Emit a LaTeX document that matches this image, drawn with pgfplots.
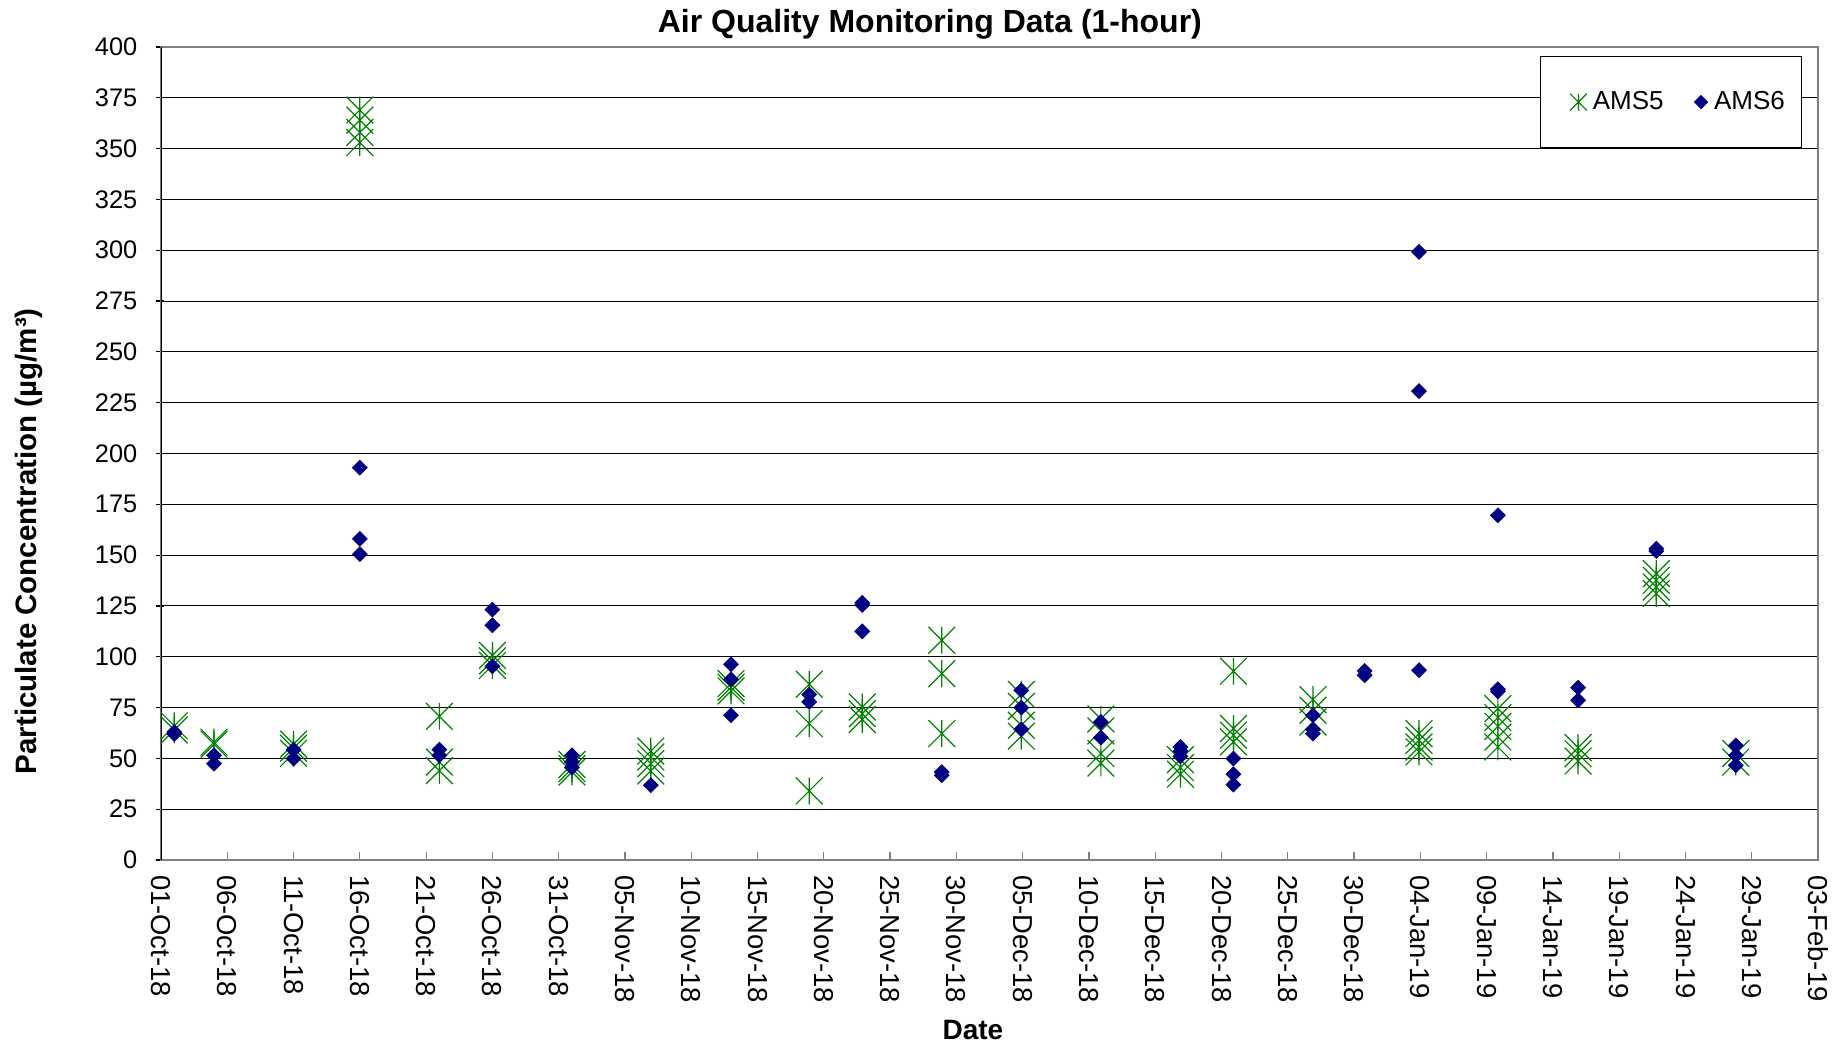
\documentclass[border=0pt]{standalone}
\usepackage{fontspec}
\setmainfont{Liberation Sans}
\usepackage{pgfplots}
\pgfplotsset{compat=1.18}
\definecolor{amsgreen}{RGB}{0,128,0}
\definecolor{amsnavy}{RGB}{0,0,128}
\definecolor{bordergray}{RGB}{128,128,128}
\pgfdeclareplotmark{excelstar}{%
  \pgfpathmoveto{\pgfqpoint{-\pgfplotmarksize}{-\pgfplotmarksize}}%
  \pgfpathlineto{\pgfqpoint{\pgfplotmarksize}{\pgfplotmarksize}}%
  \pgfpathmoveto{\pgfqpoint{-\pgfplotmarksize}{\pgfplotmarksize}}%
  \pgfpathlineto{\pgfqpoint{\pgfplotmarksize}{-\pgfplotmarksize}}%
  \pgfpathmoveto{\pgfqpoint{0pt}{-\pgfplotmarksize}}%
  \pgfpathlineto{\pgfqpoint{0pt}{\pgfplotmarksize}}%
  \pgfusepathqstroke
}
\pgfplotsset{
  amsfive legend/.style={legend image code/.code={\path[draw=none,fill=none] (0pt,0pt) -- (17pt,0pt); \draw[##1, mark size=4.2pt] plot coordinates {(13.5pt,0pt)};}},
  amssix legend/.style={legend image code/.code={\path[draw=none,fill=none] (0pt,0pt) -- (17pt,0pt); \draw[##1, mark size=2.3pt] plot coordinates {(13.5pt,0pt)};}},
}
\begin{document}
\begin{tikzpicture}
\useasboundingbox (-80.5pt,-95pt) rectangle (839pt,430pt);
\begin{axis}[
  scale only axis, width=828.5pt, height=406.5pt,
  xmin=0, xmax=125, ymin=0, ymax=400,
  xtick={0,5,...,125},
  xticklabels={01-Oct-18,06-Oct-18,11-Oct-18,16-Oct-18,21-Oct-18,26-Oct-18,31-Oct-18,05-Nov-18,10-Nov-18,15-Nov-18,20-Nov-18,25-Nov-18,30-Nov-18,05-Dec-18,10-Dec-18,15-Dec-18,20-Dec-18,25-Dec-18,30-Dec-18,04-Jan-19,09-Jan-19,14-Jan-19,19-Jan-19,24-Jan-19,29-Jan-19,03-Feb-19},
  ytick={0,25,...,400},
  ymajorgrids, grid style={black, line width=0.5pt},
  axis line style={draw=bordergray, line width=1.2pt},
  tick align=inside, major tick length=4pt,
  xtick pos=bottom, ytick pos=left,
  xtick style={bordergray, line width=0.6pt},
  ytick style={black, line width=0.6pt, xshift=-2.7pt},
  /pgf/number format/assume math mode=true,
  yticklabel style={font=\fontsize{12.7}{15}\selectfont},
  yticklabel shift=8.3pt,
  xticklabel style={font=\fontsize{13.7}{16}\selectfont, rotate=-90, anchor=west},
  xticklabel shift=4pt,
  title={Air Quality Monitoring Data (1-hour)},
  title style={font=\bfseries\fontsize{16}{19}\selectfont, at={(0.464,1)}, anchor=base, yshift=1.3pt},
  xlabel={Date},
  xlabel style={font=\bfseries\fontsize{14}{17}\selectfont, at={(axis description cs:0.490,-0.209)}, anchor=center},
  ylabel={Particulate Concentration (µg/m³)},
  ylabel style={font=\bfseries\fontsize{14.75}{17}\selectfont, at={(axis description cs:-0.0797,0.392)}, anchor=center},
  legend columns=2,
  legend cell align=left,
  legend style={at={(0.8322,0.9889)}, anchor=north west, draw=black, line width=0.5pt,
    font=\fontsize{13}{15}\selectfont, inner xsep=5.5pt, inner ysep=14.5pt,
    nodes={inner sep=3pt},
    /tikz/every even column/.append style={column sep=2.2pt}},
]
\addplot[only marks, color=amsgreen, mark=excelstar, mark size=6.7pt,
  mark options={draw=amsgreen, line width=0.6pt}, amsfive legend]
table {
x y
1.0 66
1.0 64
4.0 58
4.0 57
10.0 57
10.0 55
10.0 52.5
15.0 369
15.0 364
15.0 358
15.0 353
21.0 70.7
21.0 48.2
21.0 44
25.0 100.7
25.0 98
25.0 95.7
31.0 47
31.0 45
31.0 43.3
36.95 53.6
36.95 50.7
36.95 47.4
36.95 43.8
43.0 86.8
43.0 85
43.0 83.2
48.9 86.5
48.9 67.1
48.9 34
52.9 75.3
52.9 72
52.9 69.1
58.9 108.1
58.9 91.7
58.9 62.2
64.9 81.5
64.9 75.6
64.9 66.3
64.9 60.9
70.9 69.4
70.9 63.5
70.9 52.4
70.9 47.7
76.9 49.4
76.9 45.5
76.9 42.2
80.9 92.9
80.9 64.7
80.9 61.4
80.9 58.1
86.9 78.9
86.9 73.7
86.9 67.9
94.9 62.2
94.9 58.9
94.9 55.6
94.9 53.2
100.85 74.5
100.85 70.1
100.85 65.8
100.85 60.5
100.85 55.6
106.9 55.3
106.9 52.3
106.9 48.7
112.8 140.9
112.8 137.6
112.8 134.3
112.8 131.1
118.8 52.4
118.8 48.2
};
\addlegendentry{AMS5}
\addplot[only marks, color=amsnavy, mark=square*, mark size=2.6pt,
  mark options={rotate=45, draw=amsnavy, fill=amsnavy}, amssix legend]
table {
x y
1.0 63
1.0 62
4.0 51.5
4.0 47.4
10.0 54.3
10.0 49.9
15.0 193
15.0 158
15.0 150.5
21.0 54.3
21.0 51.5
25.0 123.2
25.0 115.5
25.0 95.3
31.0 51.5
31.0 48.2
31.0 45.5
36.95 36.8
43.0 96.3
43.0 88.9
43.0 71.2
48.9 81.4
48.9 77.8
52.9 126.5
52.9 125.5
52.9 112.5
58.9 43.3
58.9 41.7
64.9 83.5
64.9 75
64.9 64.3
70.9 67.9
70.9 60.2
76.9 55.6
76.9 53.6
76.9 51
80.9 49.9
80.9 42.2
80.9 37.1
86.9 71.2
86.9 64.2
86.9 62.2
90.8 93
90.8 90.9
94.9 299.2
94.9 230.7
94.9 93.4
100.85 169.6
100.85 84
100.85 83
106.9 84.8
106.9 78.6
112.8 153.2
112.8 152
118.8 56.4
118.8 51.5
118.8 46.6
};
\addlegendentry{AMS6}
\draw[black, line width=0.7pt] (rel axis cs:0,0) -- (rel axis cs:0,1);
\end{axis}
\end{tikzpicture}
\end{document}
